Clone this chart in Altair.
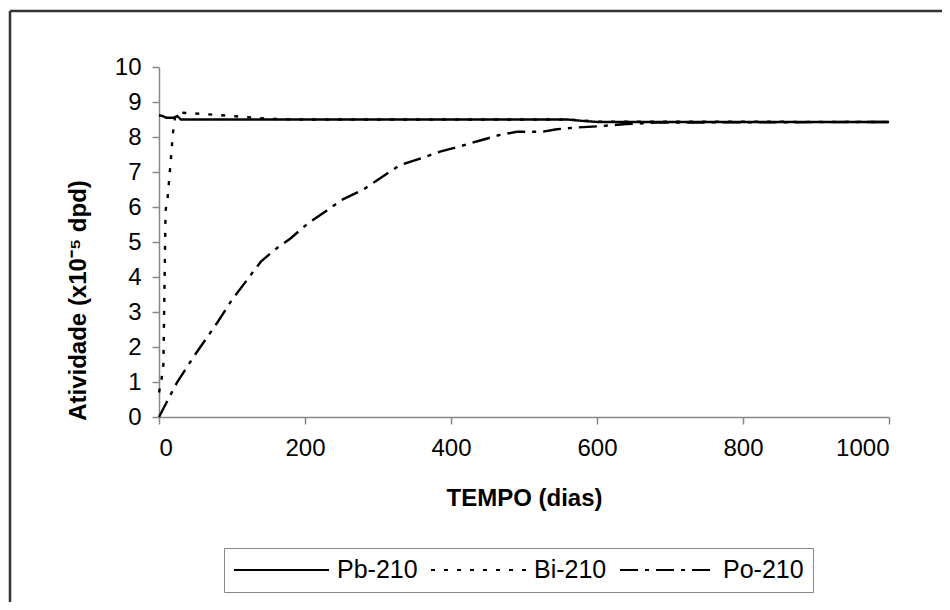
import altair as alt
import pandas as pd

# ---- data ----
isotopes = ["Pb-210", "Bi-210", "Po-210"]

pb_days = [0, 5, 10, 20, 25, 30, 560, 580, 600, 1000]
pb_vals = [8.62, 8.6, 8.55, 8.55, 8.6, 8.5, 8.5, 8.46, 8.43, 8.43]

bi_days = [0, 3, 6, 9, 12, 16, 19, 22, 26, 50, 100, 150, 200, 560, 600, 1000]
bi_vals = [0.7, 1.0, 1.5, 5.9, 6.3, 7.3, 8.1, 8.55, 8.7, 8.67, 8.6, 8.52, 8.5, 8.5, 8.44, 8.43]

po_days = [0, 25, 50, 80, 100, 120, 140, 160, 180, 205, 230, 250, 280, 305, 330,
           360, 385, 410, 440, 465, 490, 525, 545, 570, 605, 640, 680, 800, 1000]
po_vals = [0, 1.0, 1.8, 2.7, 3.35, 3.9, 4.45, 4.8, 5.1, 5.55, 5.9, 6.2, 6.5, 6.85, 7.2,
           7.4, 7.58, 7.72, 7.9, 8.05, 8.15, 8.15, 8.22, 8.27, 8.31, 8.37, 8.41, 8.42, 8.43]

x_ticks = [0, 200, 400, 600, 800, 1000]
y_ticks = list(range(0, 11))

rows = []
for name, days, vals in zip(isotopes, [pb_days, bi_days, po_days], [pb_vals, bi_vals, po_vals]):
    for d, v in zip(days, vals):
        rows.append({"isotope": name, "dias": d, "atividade": v})
df = pd.DataFrame(rows)

FONT = "Liberation Sans"

lines = alt.Chart(df).mark_line(color="black", strokeWidth=2.4).encode(
    x=alt.X("dias:Q",
            scale=alt.Scale(domain=[0, 1000], nice=False),
            axis=alt.Axis(values=x_ticks, format="d", title="TEMPO (dias)", grid=False,
                          labelFontSize=24, labelPadding=12, titlePadding=26,
                          titleFontSize=24)),
    y=alt.Y("atividade:Q",
            scale=alt.Scale(domain=[0, 10], nice=False),
            axis=alt.Axis(values=y_ticks, title="Atividade (x10⁻⁵ dpd)", grid=False,
                          labelFontSize=24, labelPadding=11, titlePadding=24,
                          titleFontSize=24, titleY=233)),
    strokeDash=alt.StrokeDash(
        "isotope:N",
        scale=alt.Scale(domain=isotopes, range=[[1, 0], [4, 9], [18, 7, 4, 7]]),
        legend=alt.Legend(title=None, orient="none", legendX=65, legendY=481,
                          direction="horizontal", columns=3,
                          symbolType="stroke", symbolSize=9025,
                          symbolStrokeWidth=2, symbolStrokeColor="black",
                          labelFontSize=25, labelFont=FONT, labelColor="black",
                          labelOffset=7, columnPadding=12, padding=9,
                          strokeColor="#888", fillColor="white",
                          clipHeight=26, labelLimit=200),
    ),
    order=alt.Order("dias:Q"),
)

frame_df = pd.DataFrame({"k": [0]})
frame_left = alt.Chart(frame_df).mark_rule(color="#333", strokeWidth=2.5).encode(
    x=alt.value(-149), y=alt.value(-56), y2=alt.value(700))
frame_top = alt.Chart(frame_df).mark_rule(color="#333", strokeWidth=2.5).encode(
    x=alt.value(-149), x2=alt.value(900), y=alt.value(-56))

chart = alt.layer(frame_left, frame_top, lines).properties(
    width=730, height=350,
    autosize="none",
    padding={"left": 151, "top": 59, "right": 53, "bottom": 185},
    background="white",
).configure_view(strokeWidth=0).configure_axis(
    domainColor="#888", domainWidth=1.5, tickColor="#888", tickWidth=1.5, tickSize=7,
    labelFont=FONT, labelColor="black", titleFont=FONT, titleColor="black",
    titleFontWeight="bold",
)

chart.save("out.html", embed_options={"renderer": "svg", "actions": False})
